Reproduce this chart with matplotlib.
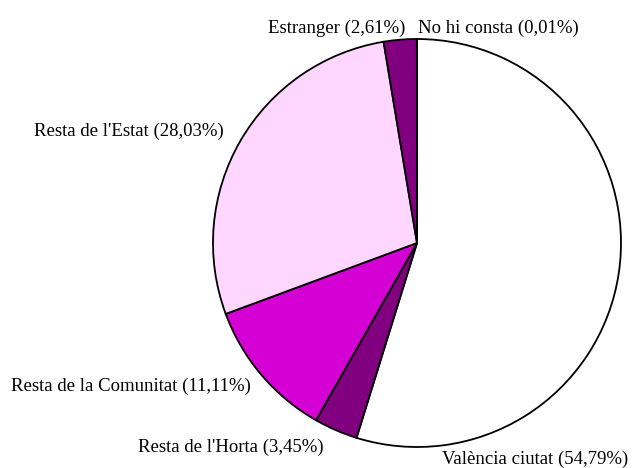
import matplotlib
matplotlib.use("Agg")
from matplotlib import pyplot

categories = [
    "València ciutat",
    "Resta de l'Horta",
    "Resta de la Comunitat",
    "Resta de l'Estat",
    "Estranger",
    "No hi consta",
]
shares = [54.79, 3.45, 11.11, 28.03, 2.61, 0.01]
colors = ["#FFFFFF", "#800080", "#D400D4", "#FFD6FF", "#800080", "#FFFFFF"]

# label anchor (pixel x, pixel y from top, horizontal alignment)
label_pos = [
    (442, 459, "left"),
    (138, 447, "left"),
    (11, 386, "left"),
    (34, 131, "left"),
    (405, 28, "right"),
    (418, 28, "left"),
]

W, H = 632, 468
fig = pyplot.figure(figsize=(W / 100, H / 100), dpi=100)
cx, cy, r = 417, 243, 204
ax = fig.add_axes([(cx - r) / W, (H - cy - r) / H, 2 * r / W, 2 * r / H])

ax.pie(
    shares,
    colors=colors,
    startangle=90,
    counterclock=False,
    wedgeprops={"edgecolor": "black", "linewidth": 1.3},
)
ax.set_xlim(-1, 1)
ax.set_ylim(-1, 1)
ax.set_aspect("equal")
ax.axis("off")

for name, share, (px, py, ha) in zip(categories, shares, label_pos):
    txt = f"{name} ({share:.2f}%)".replace(".", ",")
    fig.text(px / W, 1 - py / H, txt, ha=ha, va="center",
             fontsize=13.5, family="Liberation Serif")

fig.savefig("out.png", dpi=100)
